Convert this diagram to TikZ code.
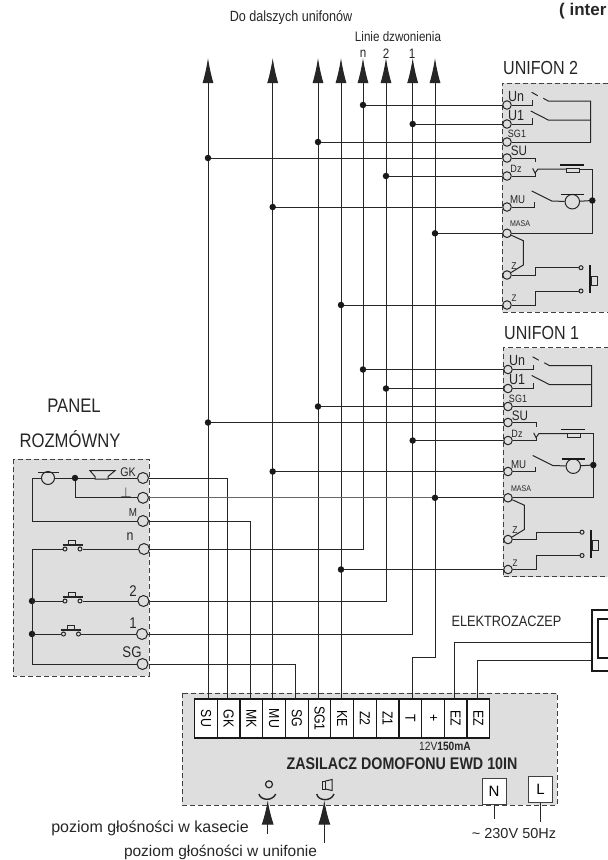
\documentclass[tikz,border=0pt]{standalone}
\usepackage{fontspec}
\setmainfont{Liberation Sans}
\newfontfamily\narrowf[FakeStretch=0.85]{Liberation Sans}
\usepackage{tikz}
\usetikzlibrary{arrows.meta}
\definecolor{panelgray}{rgb}{0.87, 0.87, 0.87}
\definecolor{wirecol}{rgb}{0.15, 0.15, 0.15}
\newcommand{\sz}[1]{\fontsize{#1}{#1}\selectfont}
\newcommand{\nz}[1]{\narrowf\fontsize{#1}{#1}\selectfont}
\tikzstyle{wire} = [draw=wirecol, line width=1pt]
\tikzstyle{bus} = [wire, -{Latex[length=25pt,width=11pt]}]
\tikzstyle{volarrow} = [wire, {Latex[length=24pt,width=12pt]}-]
\tikzstyle{frame} = [draw=black!75, line width=0.8pt, dash pattern=on 5pt off 3pt]
\tikzstyle{term} = [circle, draw=wirecol, line width=1pt, inner sep=0pt, minimum size=8.5pt]
\tikzstyle{bigterm} = [term, minimum size=11pt]
\tikzstyle{contact} = [term, minimum size=4pt]
\tikzstyle{jdot} = [circle, fill=black!90, inner sep=0pt, minimum size=6.5pt]
\tikzstyle{cell} = [rectangle, draw=black!90, fill=white, line width=1.2pt, inner sep=0pt,
    minimum width=39pt, minimum height=22.7pt, rotate=-90]
\tikzstyle{mainsbox} = [rectangle, draw=black!75, fill=white, line width=1pt, inner sep=0pt,
    minimum width=24pt, minimum height=26pt]
\tikzstyle{lbl} = [inner sep=0pt, text=black!85]
\begin{document}
\begin{tikzpicture}[x=1pt, y=-1pt]
\useasboundingbox (0,0) rectangle (608,860);

% grey boxes
\fill[panelgray] (13,459) rectangle (149,676);
\draw[frame] (13,459) rectangle (149,676);
\fill[panelgray] (182,693) rectangle (557,805);
\draw[frame] (182,693) rectangle (557,805);

% top labels
\node[lbl, font=\nz{14.8}] (further) at (291,18) {Do dalszych  unifonów};
\node[lbl, font=\nz{13.7}] (lines) at (398,37) {Linie dzwonienia};
\node[lbl, font=\nz{13.7}] (labn) at (363,54) {n};
\node[lbl, font=\nz{13.7}] (lab2) at (386,54) {2};
\node[lbl, font=\nz{13.7}] (lab1) at (412,54) {1};
\node[lbl, font=\bfseries\sz{17}, anchor=west] (title) at (559,11) {( inter};

% ends of the bus lines
\foreach \nm/\xx in {SU/208,MU/272.7,SGa/318,KE/341,n/363,2/386,1/412.7,MASA/435}
    \coordinate (top\nm) at (\xx,58);

% unifons
\foreach \u/\dx/\dy in {2/0/0,1/1/264.5} {
\begin{scope}[shift={(\dx,\dy)}, name prefix=uni\u]
\fill[panelgray] (502,83) rectangle (608,312);
\draw[frame] (608,83) -- (502,83) -- (502,312) -- (608,312);
\node[lbl, font=\nz{18.9}, anchor=west] (name) at (503,68) {UNIFON  \u};

\node[term] (Un) at (507,105) {};
\node[term] (Ua) at (507,124) {};
\node[term] (SGa) at (507,142) {};
\node[term] (SU) at (507,158) {};
\node[term] (Dz) at (507,176) {};
\node[term] (MU) at (507,207) {};
\node[term] (MASA) at (507,233.3) {};
\node[term] (Za) at (507,275) {};
\node[term] (Zb) at (507,305) {};

\node[lbl, font=\nz{14.7}] (labUn) at (516,96.5) {Un};
\node[lbl, font=\nz{14.7}] (labUa) at (516,115.5) {U1};
\node[lbl, font=\nz{10.6}] (labSGa) at (517,134) {SG1};
\node[lbl, font=\nz{13.7}] (labSU) at (519,151) {SU};
\node[lbl, font=\nz{10.6}] (labDz) at (516,169) {Dz};
\node[lbl, font=\nz{11.4}] (labMU) at (517.7,200) {MU};
\node[lbl, font=\nz{8.3}] (labMASA) at (520,224) {MASA};
\node[lbl, font=\nz{10}] (labZa) at (514,266) {Z};
\node[lbl, font=\nz{9.5}] (labZb) at (514,298.7) {Z};

% switches
\draw[wire] (Un) -- (532.7,105) -- (532.7,100);
\draw[wire] (531.7,92.3) -- (537.7,95.7) (543.3,98.3) -- (548.3,101) -- (590.7,101) -- (590.7,142);
\draw[wire] (Ua) -- (532.7,124) -- (532.7,118.3);
\draw[wire] (530.7,111) -- (548.3,120) -- (590.7,120);
\draw[wire] (SGa) -- (590.7,142);
\draw[wire] (SU) -- (535,158) -- (535,162.3);
\draw[wire] (Dz) -- (535,176) -- (535,172);

% receiver
\draw[wire] (532.7,168.3) -- (535,173) -- (538,169) -- (566,169);
\draw[wire, fill=panelgray] (566,168.5) rectangle (579.3,172.7);
\draw[draw=black!90, line width=1.8pt] (560,165) -- (584,165);
\draw[wire] (579.3,169) -- (592.3,169) -- (592.3,233.3) -- (MASA);
\node[jdot] (join) at (592.3,200.5) {};

% microphone
\node[term, minimum size=14.5pt] (mic) at (572.3,201.7) {};
\draw[draw=black!90, line width=1.8pt] (561,194.5) -- (584,194.5);
\draw[wire] (531.7,191) -- (551.7,201) -- (mic);
\draw[wire] (mic) -- (join);
\draw[wire] (MU) -- (534,207) -- (534,202);

% call button
\coordinate (zbend) at (523.3,240.7);
\draw[wire] (MASA) -- (zbend) -- (523.3,265) -- (Za);
\node[contact] (cA) at (581,267.7) {};
\node[contact] (cB) at (581,291) {};
\draw[wire] (Za) -- (535,275) -- (535,267.7) -- (cA);
\draw[wire] (Zb) -- (535,305) -- (535,291) -- (cB);
\draw[draw=black!90, line width=1.6pt] (590,265) -- (590,293.3);
\draw[wire] (591,276) rectangle (597.7,285.7);
\end{scope}
}

% power supply
\foreach \nm/\txt [count=\i from 0] in {SU/SU,GK/GK,MK/MK,MU/MU,SG/SG,SGa/SG1,KE/KE,Zb/Z2,Za/Z1,T/T,plus/+,EZa/EZ,EZb/EZ}
    \node[cell, font=\nz{14.5}] (cell\nm) at (206+22.7*\i,718.5) {\txt};
\foreach \nm/\xx in {SU/208,GK/227,MK/250,MU/272.7,SG/295,SGa/318,KE/341,T/412.7,EZa/454,EZb/477}
    \coordinate (pin\nm) at (\xx,699);
\node[lbl, font=\nz{12}] (rating) at (445,746) {12V\textbf{150mA}};
\node[lbl, font=\bfseries\nz{16.8}] (supply) at (402,764) {ZASILACZ DOMOFONU EWD 10IN};
\node[mainsbox] (boxN) at (494,791) {\sz{15}N};
\node[mainsbox] (boxL) at (540.5,789.5) {\sz{15}L};
\coordinate (endN) at (494,819);
\coordinate (endL) at (540.5,822);
\draw[wire] (boxN) -- (endN);
\draw[wire] (boxL) -- (endL);
\node[lbl, font=\sz{14.5}] (mains) at (514,833) {\textasciitilde{} 230V 50Hz};

% volume controls
\node[term, minimum size=7pt, line width=1.2pt] (volmic) at (269,784.3) {};
\draw[wire, line width=1.4pt] (259,794) .. controls (260,800) and (272,802) .. (275.7,794);
\draw[wire] (322.7,781) rectangle (325.5,789);
\draw[wire] (325.5,781) -- (332,779.5) -- (332,790.5) -- (325.5,789);
\draw[wire, line width=1.4pt] (316.7,794) .. controls (318,801) and (331,802) .. (334,794);
\coordinate (tipA) at (267.7,800.5);
\coordinate (endA) at (267.7,834);
\coordinate (tipB) at (324.3,800.5);
\coordinate (endB) at (324.3,843);
\draw[volarrow] (tipA) -- (endA);
\draw[volarrow] (tipB) -- (endB);
\node[lbl, font=\sz{16}] (volpanel) at (150,828) {poziom głośności w kasecie};
\node[lbl, font=\sz{15.5}] (volunifon) at (220.5,852) {poziom głośności w unifonie};

% door strike
\node[lbl, font=\nz{15}] (strike) at (506.5,621) {ELEKTROZACZEP};
\draw[draw=black!90, line width=1.4pt] (608,610) -- (592,610) -- (592,671) -- (608,671);
\draw[draw=black!90, line width=1.4pt] (608,619) -- (598,619) -- (598,658) -- (608,658);
\coordinate (strikeA) at (592,642);
\coordinate (strikeB) at (592,660);
\draw[wire] (strikeA) -| (pinEZa);
\draw[wire] (strikeB) -| (pinEZb);

% talk panel
\node[lbl, font=\nz{19.6}] (panel) at (74,406) {PANEL};
\node[lbl, font=\nz{19.6}] (panelb) at (70,439) {ROZMÓWNY};
\node[bigterm] (pGK) at (143,478) {};
\node[bigterm] (pGnd) at (143,497.8) {};
\node[bigterm] (pM) at (143,521) {};
\node[bigterm] (pn) at (144,549) {};
\node[bigterm] (p2) at (143.5,601) {};
\node[bigterm] (p1) at (142,634) {};
\node[bigterm] (pSG) at (142.5,664) {};
\node[lbl, font=\nz{12.5}] (labGK) at (128,472) {GK};
\node[lbl, font=\sz{14}] (labGnd) at (126,492) {$\perp$};
\node[lbl, font=\nz{11.5}] (labM) at (133,513) {M};
\node[lbl, font=\nz{14.5}] (labn2) at (130,537) {n};
\node[lbl, font=\nz{15.5}] (labp2) at (133,591) {2};
\node[lbl, font=\nz{15.5}] (labp1) at (133,623) {1};
\node[lbl, font=\nz{15.5}] (labSG) at (132,652) {SG};

\node[term, minimum size=13pt] (pmic) at (48,478) {};
\draw[draw=black!85, line width=1pt] (38,472) -- (59,472);
\node[jdot] (pjoin) at (75,478) {};
\coordinate (pmicleft) at (32,478);
\draw[wire] (pM) -- (32,521) -- (pmicleft) -- (pmic);
\draw[wire] (pmic) -- (pjoin) -- (pGK);
\draw[wire] (pjoin) |- (pGnd);
\draw[wire, fill=panelgray] (90,470.7) -- (115,470.7) -- (108,476.5) -- (108,479) -- (95,479) -- (95,476.5) -- cycle;

\node[jdot] (pj2) at (32,601) {};
\node[jdot] (pj1) at (32,634) {};
\coordinate (pbus) at (32,549);
\draw[wire] (pbus) -- (32,664) -- (pSG);
\foreach \p/\xa/\yy in {n/65/549,2/65/601,1/63.5/634} {
    \node[contact] (k\p a) at (\xa,\yy) {};
    \node[contact] (k\p b) at (\xa+15,\yy) {};
    \draw[wire] (32,\yy) -- (k\p a);
    \draw[wire] (k\p b) -- (p\p);
    \draw[wire, line width=1.2pt] (\xa-2.5,\yy-4) -- (\xa+17.5,\yy-4);
    \draw[wire] (\xa+3.5,\yy-4) -- (\xa+3.5,\yy-8.5) -- (\xa+10.5,\yy-8.5) -- (\xa+10.5,\yy-4);
}

% wiring between the parts
\foreach \nm in {SU,MU,SGa,KE}
    \draw[bus] (pin\nm) -- (top\nm);
\draw[bus] (pn) -| (topn);
\draw[bus] (p2) -| (top2);
\draw[bus] (p1) -| (top1);
\coordinate (tjog) at (412.7,657);
\draw[bus] (pinT) -- (tjog) -- (tjog -| topMASA) -- (topMASA);
\draw[wire] (pGK) -| (pinGK);
\draw[wire] (pM) -| (pinMK);
\draw[wire] (pSG) -| (pinSG);
\draw[wire, draw=black!60, line width=1.2pt] (pGnd) -- (uni1MASA);

\foreach \term/\line in {Un/n,Ua/1,SGa/SGa,SU/SU,Dz/2,MU/MU,MASA/MASA,Zb/KE}
    \draw[wire] (uni2\term) -- (uni2\term -| top\line) node[jdot] (jb\term) {};
\foreach \term/\line in {Un/n,Ua/2,SGa/SGa,SU/SU,Dz/1,MU/MU,MASA/MASA,Zb/KE}
    \draw[wire] (uni1\term) -- (uni1\term -| top\line) node[jdot] (ja\term) {};
\end{tikzpicture}
\end{document}
